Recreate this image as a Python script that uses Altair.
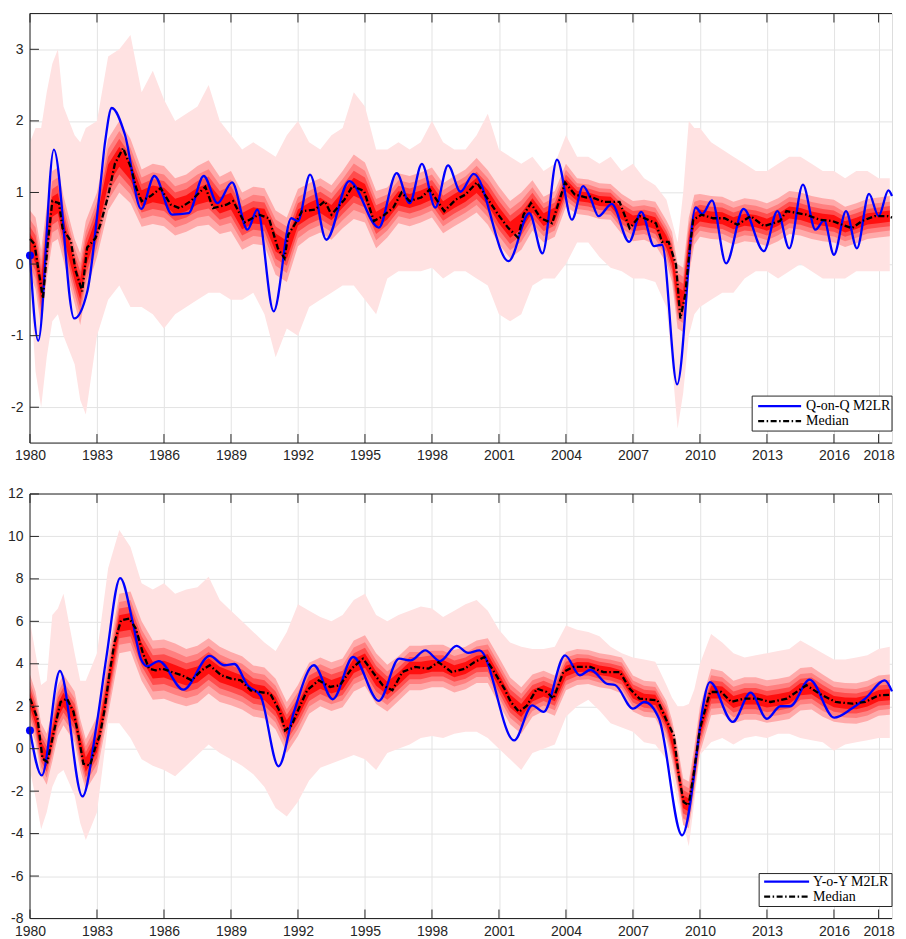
import altair as alt
import pandas as pd

# ---------------- data ----------------
band_years = [
    1980.0, 1980.25, 1980.5, 1980.75, 1981.0, 1981.25, 1981.5, 1982.0, 1982.25, 1982.5,
    1983.0, 1983.5, 1984.0, 1984.5, 1985.0, 1985.5, 1986.0, 1986.5, 1987.0, 1987.5,
    1988.0, 1988.5, 1989.0, 1989.5, 1990.0, 1990.5, 1991.0, 1991.5, 1992.0, 1992.5,
    1993.0, 1993.5, 1994.0, 1994.5, 1995.0, 1995.5, 1996.0, 1996.5, 1997.0, 1997.5,
    1998.0, 1998.5, 1999.0, 1999.5, 2000.0, 2000.5, 2001.0, 2001.5, 2002.0, 2002.5,
    2003.0, 2003.5, 2004.0, 2004.5, 2005.0, 2005.5, 2006.0, 2006.5, 2007.0, 2007.5,
    2008.0, 2008.5, 2008.75, 2009.0, 2009.25, 2009.5, 2009.75, 2010.0, 2010.5, 2011.0,
    2011.5, 2012.0, 2012.5, 2013.0, 2013.5, 2014.0, 2014.5, 2015.0, 2015.5, 2016.0,
    2016.5, 2017.0, 2017.5, 2018.0, 2018.5,
]

# --- Q-on-Q panel ---
q_label = "Q-on-Q M2LR"
q_outer_lo = [
    -0.3, -1.5, -2.0, -1.3, -0.8, -0.7, -1.0, -1.4, -1.9, -2.1,
    -1.0, -0.5, -0.3, -0.6, -0.6, -0.7, -0.9, -0.7, -0.6, -0.5,
    -0.4, -0.4, -0.5, -0.5, -0.4, -0.7, -1.3, -0.9, -1.0, -0.6,
    -0.5, -0.4, -0.3, -0.3, -0.5, -0.7, -0.2, -0.1, -0.1, -0.1,
    -0.05, -0.2, -0.1, -0.1, -0.2, -0.3, -0.7, -0.8, -0.7, -0.3,
    -0.2, -0.2, 0.0, 0.3, 0.3, 0.1, -0.05, -0.1, -0.2, -0.2,
    -0.25, -0.6, -1.4, -2.3, -1.8, -1.0, -0.7, -0.6, -0.5, -0.4,
    -0.4, -0.2, -0.1, -0.1, -0.2, -0.1, 0.0, -0.1, -0.2, -0.2,
    -0.2, -0.1, -0.1, -0.1, -0.1,
]
q_outer_hi = [
    1.7, 1.9, 1.9, 2.4, 2.8, 3.0, 2.2, 1.8, 1.7, 1.9,
    2.0, 2.9, 3.0, 3.2, 2.4, 2.7, 2.3, 2.0, 2.1, 2.2,
    2.5, 2.0, 1.8, 1.6, 1.7, 1.6, 1.5, 1.8, 2.0, 1.7,
    1.6, 1.8, 1.9, 2.4, 2.2, 1.6, 1.6, 1.7, 1.6, 1.7,
    2.0, 1.7, 1.6, 1.6, 1.8, 2.1, 1.6, 1.5, 1.4, 1.5,
    1.3, 1.4, 1.8, 1.5, 1.5, 1.4, 1.5, 1.3, 1.4, 1.2,
    1.1, 0.9, 0.6, 0.3, 1.0, 2.0, 1.9, 1.9, 1.7, 1.6,
    1.5, 1.4, 1.3, 1.3, 1.4, 1.5, 1.5, 1.4, 1.3, 1.3,
    1.2, 1.3, 1.3, 1.2, 1.2,
]
q_center = [
    0.3, 0.15, -0.35, 0.3, 0.8, 0.85, 0.5, -0.1, -0.35, 0.1,
    0.55, 1.25, 1.5, 1.3, 0.92, 0.98, 0.95, 0.8, 0.85, 0.95,
    1.0, 0.82, 0.88, 0.6, 0.68, 0.66, 0.3, 0.2, 0.65, 0.75,
    0.82, 0.72, 0.9, 1.08, 1.0, 0.62, 0.72, 0.92, 0.88, 0.93,
    1.0, 0.78, 0.88, 0.97, 1.1, 0.93, 0.68, 0.48, 0.6, 0.82,
    0.62, 0.7, 1.1, 0.95, 0.93, 0.88, 0.87, 0.7, 0.6, 0.62,
    0.57, 0.31, 0.1, -0.45, -0.5, 0.25, 0.62, 0.68, 0.65, 0.64,
    0.57, 0.62, 0.6, 0.55, 0.62, 0.72, 0.7, 0.65, 0.62, 0.6,
    0.52, 0.57, 0.63, 0.65, 0.67,
]
q_half = [
    0.45, 0.5, 0.55, 0.5, 0.5, 0.5, 0.45, 0.45, 0.5, 0.5,
    0.45, 0.5, 0.5, 0.45, 0.4, 0.42, 0.42, 0.4, 0.4, 0.42,
    0.45, 0.4, 0.42, 0.4, 0.4, 0.4, 0.45, 0.45, 0.4, 0.38,
    0.38, 0.38, 0.4, 0.45, 0.42, 0.4, 0.35, 0.35, 0.35, 0.35,
    0.35, 0.35, 0.35, 0.35, 0.38, 0.38, 0.4, 0.4, 0.4, 0.35,
    0.32, 0.32, 0.3, 0.25, 0.25, 0.25, 0.25, 0.28, 0.28, 0.28,
    0.3, 0.3, 0.35, 0.45, 0.45, 0.4, 0.35, 0.3, 0.3, 0.3,
    0.3, 0.3, 0.3, 0.3, 0.3, 0.3, 0.3, 0.3, 0.3, 0.3,
    0.28, 0.28, 0.28, 0.28, 0.28,
]
q_blue_years = [
    1980.0, 1980.37, 1981.07, 1981.98, 1982.57, 1983.08, 1983.37, 1983.66, 1984.25, 1984.98,
    1985.57, 1986.37, 1987.1, 1987.78, 1988.4, 1989.05, 1989.74, 1990.18, 1990.91, 1991.7,
    1992.0, 1992.54, 1993.27, 1994.3, 1995.62, 1996.42, 1997.0, 1997.55, 1998.15, 1998.72,
    1999.28, 1999.87, 2001.43, 2002.36, 2002.95, 2003.6, 2004.27, 2004.77, 2005.1, 2005.46,
    2006.05, 2006.83, 2007.37, 2007.95, 2008.3, 2008.98, 2009.81, 2010.1, 2010.54, 2011.17,
    2011.95, 2012.86, 2013.47, 2014.0, 2014.61, 2015.17, 2015.56, 2016.0, 2016.54, 2017.03,
    2017.57, 2018.0, 2018.44, 2018.6,
]
q_blue_vals = [
    0.12, -1.07, 1.60, -0.76, -0.38, 0.88, 1.72, 2.18, 1.81, 0.77,
    1.23, 0.69, 0.71, 1.23, 0.85, 1.14, 0.48, 0.76, -0.66, 0.64,
    0.60, 1.25, 0.34, 1.16, 0.51, 1.27, 0.85, 1.40, 0.79, 1.38,
    1.01, 1.26, 0.04, 0.71, 0.15, 1.46, 0.62, 1.09, 0.92, 0.67,
    0.84, 0.31, 0.73, 0.25, 0.27, -1.68, 0.79, 0.70, 0.89, 0.01,
    0.77, 0.18, 0.74, 0.22, 1.11, 0.48, 0.61, 0.13, 0.74, 0.22,
    0.98, 0.67, 1.03, 0.95,
]
q_med_years = [
    1980.0, 1980.2, 1980.58, 1980.8, 1981.0, 1981.3, 1981.46, 1981.83, 1982.05, 1982.34,
    1982.56, 1982.93, 1983.15, 1983.5, 1983.8, 1984.17, 1984.53, 1984.76, 1985.0, 1985.4,
    1985.85, 1986.3, 1986.7, 1987.2, 1987.85, 1988.2, 1988.8, 1989.1, 1989.6, 1990.25,
    1990.7, 1991.1, 1991.4, 1991.56, 1991.85, 1992.18, 1992.76, 1993.2, 1993.5, 1994.08,
    1994.44, 1994.96, 1995.4, 1995.8, 1996.27, 1996.64, 1997.0, 1997.52, 1997.9, 1998.55,
    1999.06, 1999.5, 2000.01, 2000.45, 2000.97, 2001.4, 2001.85, 2002.1, 2002.43, 2002.87,
    2003.38, 2003.96, 2004.4, 2004.92, 2005.1, 2005.68, 2006.4, 2006.85, 2007.3, 2008.03,
    2008.3, 2008.6, 2008.93, 2009.12, 2009.34, 2009.56, 2009.7, 2010.07, 2010.59, 2011.1,
    2011.68, 2012.27, 2012.86, 2013.58, 2013.87, 2014.76, 2015.35, 2015.94, 2016.8, 2017.25,
    2017.82, 2018.4, 2018.6,
]
q_med_vals = [
    0.35, 0.28, -0.48, 0.30, 0.88, 0.85, 0.50, 0.32, -0.10, -0.38,
    0.23, 0.36, 0.55, 0.95, 1.40, 1.62, 1.34, 1.06, 0.88, 0.95,
    1.06, 0.83, 0.78, 0.88, 1.08, 0.78, 0.83, 0.88, 0.58, 0.69,
    0.64, 0.22, 0.08, 0.41, 0.55, 0.74, 0.76, 0.88, 0.69, 0.90,
    1.09, 1.02, 0.60, 0.67, 0.79, 1.00, 0.88, 0.93, 1.04, 0.74,
    0.90, 0.97, 1.14, 0.93, 0.69, 0.51, 0.37, 0.69, 0.85, 0.64,
    0.57, 1.14, 0.97, 0.93, 0.94, 0.87, 0.87, 0.50, 0.67, 0.57,
    0.31, 0.31, -0.01, -0.76, -0.43, 0.27, 0.62, 0.69, 0.64, 0.64,
    0.55, 0.67, 0.53, 0.60, 0.74, 0.69, 0.62, 0.60, 0.50, 0.60,
    0.67, 0.67, 0.65,
]
q_y_ticks = [-2, -1, 0, 1, 2, 3]

# --- Y-o-Y panel ---
y_label = "Y-o-Y M2LR"
y_outer_lo = [
    -1.0, -2.3, -3.8, -3.0, -1.8, -1.2, -1.0, -2.2, -3.5, -4.3,
    -3.0, 1.2, 1.2, 0.5, -0.5, -0.8, -1.0, -1.3, -0.8, -0.3,
    0.2, -0.2, -0.5, -0.8, -1.2, -1.8, -2.8, -3.2, -2.5, -1.5,
    -0.9, -0.7, -0.5, -0.3, -0.5, -1.0, -0.2, 0.0, 0.2, 0.5,
    0.6, 0.5, 0.7, 0.8, 0.8, 0.5, 0.0, -0.5, -1.0, -0.2,
    0.0, 0.2, 1.5, 2.0, 2.3, 1.8, 1.2, 1.0, 0.8, 0.3,
    0.2, -0.5, -1.3, -2.5, -3.5, -4.6, -2.5, -0.3, 0.3, 0.5,
    0.2, 0.5, 0.6, 0.5, 0.7, 0.7, 0.5, 0.4, 0.3, -0.1,
    0.2, 0.3, 0.4, 0.5, 0.5,
]
y_outer_hi = [
    6.0, 4.5, 3.0, 3.2, 6.3, 6.6, 7.3, 4.5, 3.2, 3.2,
    4.5, 8.5, 10.3, 9.5, 7.8, 7.5, 7.8, 7.3, 7.5, 7.6,
    8.1, 7.0, 6.5, 6.0, 5.5, 5.0, 4.6, 5.5, 6.8, 6.5,
    6.2, 6.0, 6.3, 7.0, 7.3, 6.3, 6.0, 6.3, 6.5, 6.7,
    6.6, 6.2, 6.5, 6.8, 7.0, 6.5, 5.6, 5.0, 4.8, 4.7,
    4.7, 4.8, 5.8, 5.6, 5.5, 5.3, 4.8, 4.5, 4.3, 4.2,
    4.1, 3.0, 2.4, 2.0, 2.0, 2.1, 2.8, 4.0, 5.4, 5.0,
    4.5, 4.3, 4.4, 4.5, 4.6, 4.7, 5.1, 4.8, 4.5, 4.2,
    4.2, 4.3, 4.4, 4.7, 4.8,
]
y_center = [
    2.3, 1.5, 0.0, -0.5, 0.6, 1.8, 2.3, 1.5, 0.2, -0.75,
    0.2, 3.0, 5.9, 6.0, 4.6, 3.7, 3.75, 3.55, 3.35, 3.5,
    3.9, 3.5, 3.3, 3.1, 2.72, 2.62, 2.1, 1.0, 1.8, 2.85,
    3.15, 2.92, 3.1, 3.9, 4.15, 3.3, 2.85, 3.3, 3.8, 3.8,
    3.9, 3.9, 3.65, 3.8, 4.1, 4.15, 3.2, 2.25, 1.8, 2.5,
    2.72, 2.5, 3.65, 3.85, 3.85, 3.7, 3.61, 3.45, 2.6, 2.35,
    2.3, 1.35, 0.4, -0.9, -2.5, -2.65, -1.0, 0.9, 2.67, 2.65,
    2.2, 2.36, 2.36, 2.22, 2.3, 2.4, 2.8, 2.85, 2.5, 2.22,
    2.15, 2.13, 2.25, 2.5, 2.55,
]
y_half = [
    1.2, 1.2, 1.2, 1.2, 1.2, 1.2, 1.2, 1.2, 1.2, 1.2,
    1.3, 1.4, 1.4, 1.4, 1.4, 1.4, 1.4, 1.4, 1.35, 1.35,
    1.3, 1.3, 1.25, 1.25, 1.2, 1.2, 1.2, 1.2, 1.2, 1.2,
    1.15, 1.15, 1.15, 1.2, 1.2, 1.2, 1.1, 1.05, 1.05, 1.05,
    1.0, 1.0, 1.0, 1.0, 1.0, 1.05, 1.1, 1.1, 1.1, 1.0,
    0.95, 0.95, 0.9, 0.85, 0.8, 0.8, 0.8, 0.85, 0.85, 0.85,
    0.85, 0.9, 0.95, 1.0, 1.1, 1.1, 1.1, 1.1, 1.1, 1.0,
    1.0, 1.0, 1.0, 1.0, 1.0, 1.0, 1.0, 1.0, 1.0, 0.95,
    0.95, 0.95, 0.95, 0.95, 0.95,
]
y_blue_years = [
    1980.0, 1980.53, 1981.34, 1982.35, 1982.98, 1983.42, 1984.04, 1984.6, 1984.96, 1985.26,
    1985.77, 1986.87, 1988.05, 1988.71, 1989.15, 1989.74, 1990.32, 1991.13, 1991.82, 1992.71,
    1993.56, 1994.47, 1995.62, 1996.53, 1997.05, 1997.7, 1998.36, 1999.1, 1999.62, 2000.13,
    2001.68, 2002.49, 2003.0, 2003.96, 2004.62, 2005.1, 2005.83, 2006.2, 2007.0, 2007.51,
    2008.17, 2009.2, 2010.45, 2011.47, 2012.27, 2013.0, 2013.6, 2014.04, 2014.91, 2016.01,
    2016.8, 2017.4, 2018.28, 2018.6,
]
y_blue_vals = [
    0.86, -1.26, 3.66, -2.25, 1.10, 4.30, 8.04, 5.97, 4.24, 3.88,
    4.13, 2.78, 4.37, 3.93, 3.99, 2.99, 2.50, -0.83, 1.73, 3.93,
    2.33, 4.32, 2.25, 4.24, 4.16, 4.63, 4.13, 4.84, 4.51, 4.63,
    0.39, 2.04, 1.73, 4.40, 3.46, 3.72, 3.06, 3.00, 1.89, 2.20,
    1.41, -4.08, 3.14, 1.26, 2.64, 1.41, 2.00, 2.00, 3.25, 1.46,
    1.89, 2.36, 3.22, 2.70,
]
y_med_years = [
    1980.0, 1980.34, 1980.56, 1980.78, 1981.07, 1981.37, 1981.66, 1981.95, 1982.17, 1982.39,
    1982.69, 1982.91, 1983.13, 1983.35, 1983.57, 1983.79, 1984.08, 1984.45, 1984.74, 1985.04,
    1985.33, 1985.62, 1985.92, 1986.36, 1986.8, 1987.24, 1987.68, 1988.05, 1988.56, 1989.0,
    1989.44, 1989.88, 1990.32, 1990.76, 1991.2, 1991.42, 1991.72, 1991.97, 1992.41, 1992.93,
    1993.44, 1993.88, 1994.4, 1994.91, 1995.35, 1995.79, 1996.23, 1996.67, 1997.26, 1997.85,
    1998.29, 1998.88, 1999.47, 1999.91, 2000.35, 2000.79, 2001.24, 2001.53, 2001.9, 2002.26,
    2002.7, 2003.14, 2003.44, 2003.88, 2004.32, 2004.91, 2005.1, 2005.68, 2006.42, 2006.85,
    2007.29, 2008.1, 2008.47, 2008.83, 2009.05, 2009.27, 2009.49, 2009.71, 2010.0, 2010.45,
    2010.96, 2011.4, 2011.98, 2012.57, 2013.16, 2013.89, 2014.77, 2015.35, 2016.08, 2016.82,
    2017.4, 2017.99, 2018.5,
]
y_med_vals = [
    2.36, 1.41, -0.47, -0.63, 0.79, 2.20, 2.36, 1.73, 0.63, -0.71,
    -0.79, 0.00, 0.63, 1.89, 3.61, 5.03, 6.05, 6.13, 5.66, 4.56,
    3.77, 3.69, 3.77, 3.61, 3.46, 3.22, 3.69, 3.93, 3.46, 3.30,
    3.22, 2.75, 2.67, 2.59, 1.73, 0.86, 1.10, 1.73, 2.75, 3.22,
    2.91, 2.99, 3.77, 4.24, 3.61, 2.99, 2.75, 3.61, 3.85, 3.77,
    4.08, 3.61, 3.77, 4.08, 4.32, 3.61, 2.83, 2.20, 1.73, 2.04,
    2.83, 2.67, 2.36, 3.61, 3.85, 3.85, 3.85, 3.61, 3.61, 2.83,
    2.36, 2.28, 1.41, 0.63, -1.26, -2.51, -2.67, -1.26, 0.94, 2.67,
    2.67, 2.20, 2.36, 2.36, 2.20, 2.36, 2.99, 2.59, 2.20, 2.12,
    2.20, 2.51, 2.54,
]
y_y_ticks = [-8, -6, -4, -2, 0, 2, 4, 6, 8, 10, 12]

x_ticks = [1980, 1983, 1986, 1989, 1992, 1995, 1998, 2001, 2004, 2007, 2010, 2013, 2016, 2018]
median_label = "Median"

for arr in (q_outer_lo, q_outer_hi, q_center, q_half, y_outer_lo, y_outer_hi, y_center, y_half):
    assert len(arr) == len(band_years)
assert len(q_blue_years) == len(q_blue_vals) and len(q_med_years) == len(q_med_vals)
assert len(y_blue_years) == len(y_blue_vals) and len(y_med_years) == len(y_med_vals)

# ---------------- styling ----------------
BAND_COLORS = ["#FFE2E2", "#FFAAAA", "#FF8080", "#FF4D4D", "#FF0F0F"]
INNER_FRACTIONS = [1.0, 0.72, 0.5, 0.28]
BLUE = "#0000FF"
AXIS_GRAY = "#262626"
GRID = "#E3E3E3"
W = 863
TICK = 9
DASHDOT = [6, 2.5, 1.5, 2.5]


def panel(label, outer_lo, outer_hi, center, half, bx, bv, mx, mv, ydom, yticks, H, xpad, leg):
    rows = []
    for i, t in enumerate(band_years):
        rows.append({"year": t, "level": 0, "lo": outer_lo[i], "hi": outer_hi[i]})
        for k, f in enumerate(INNER_FRACTIONS):
            rows.append({"year": t, "level": k + 1,
                         "lo": center[i] - f * half[i], "hi": center[i] + f * half[i]})
    bands = pd.DataFrame(rows)
    blue = pd.DataFrame({"year": bx, "val": bv})
    med = pd.DataFrame({"year": mx, "val": mv})
    start = blue.iloc[[0]]

    xaxis = alt.Axis(values=x_ticks, labelExpr="'' + datum.value", title=None,
                     labelFlush=False, labelOverlap=False,
                     ticks=False, domain=False, grid=True, gridColor=GRID, gridWidth=1,
                     labelPadding=xpad, labelFontSize=14, labelFont="Liberation Sans",
                     labelColor=AXIS_GRAY)
    yaxis = alt.Axis(values=yticks, labelExpr="'' + datum.value", title=None, labelOverlap=False,
                     ticks=False, domain=False, grid=True, gridColor=GRID, gridWidth=1,
                     labelPadding=7, labelFontSize=14, labelFont="Liberation Sans",
                     labelColor=AXIS_GRAY)
    xs = alt.Scale(domain=[1980, 2018.6], nice=False, zero=False)
    ys = alt.Scale(domain=ydom, nice=False, zero=False)
    X = alt.X("year:Q", scale=xs, axis=xaxis)

    layers = []
    for k in range(5):
        layers.append(
            alt.Chart(bands).transform_filter(alt.datum.level == k)
            .mark_area(color=BAND_COLORS[k], interpolate="linear")
            .encode(x=X, y=alt.Y("lo:Q", scale=ys, axis=yaxis), y2="hi:Q")
        )
    layers.append(
        alt.Chart(blue).mark_line(color=BLUE, strokeWidth=2.3, interpolate="monotone")
        .encode(x=X, y=alt.Y("val:Q", scale=ys, axis=yaxis))
    )
    layers.append(
        alt.Chart(med).mark_line(color="black", strokeWidth=2.3, strokeDash=DASHDOT)
        .encode(x=X, y=alt.Y("val:Q", scale=ys, axis=yaxis))
    )
    layers.append(
        alt.Chart(start).mark_circle(color=BLUE, opacity=1, size=64)
        .encode(x=X, y=alt.Y("val:Q", scale=ys, axis=yaxis))
    )
    # axes box: top, bottom and left edges (right edge lies beyond the page in the original)
    ldf = pd.DataFrame({"label": [label, median_label]})
    frame = ldf.iloc[[0]]
    for yy in (0, H):
        layers.append(alt.Chart(frame).mark_rule(color=AXIS_GRAY, strokeWidth=1)
                      .encode(x=alt.value(0), x2=alt.value(W), y=alt.value(yy)))
    layers.append(alt.Chart(frame).mark_rule(color=AXIS_GRAY, strokeWidth=1)
                  .encode(x=alt.value(0), y=alt.value(0), y2=alt.value(H)))
    # inward tick marks (MATLAB box style)
    xt = pd.DataFrame({"year": x_ticks})
    yt = pd.DataFrame({"val": yticks})
    for y0, y1 in ((H - TICK, H), (0, TICK)):
        layers.append(alt.Chart(xt).mark_rule(color=AXIS_GRAY, strokeWidth=1)
                      .encode(x=X, y=alt.value(y0), y2=alt.value(y1)))
    layers.append(alt.Chart(yt).mark_rule(color=AXIS_GRAY, strokeWidth=1)
                  .encode(y=alt.Y("val:Q", scale=ys, axis=yaxis),
                          x=alt.value(0), x2=alt.value(TICK)))
    # legend box
    layers.append(alt.Chart(frame).mark_rect(fill="white", stroke=AXIS_GRAY, strokeWidth=1)
                  .encode(x=alt.value(leg["box"][0]), x2=alt.value(leg["box"][1]),
                          y=alt.value(leg["box"][2]), y2=alt.value(leg["box"][3])))
    styles = [dict(color=BLUE), dict(color="black", strokeDash=DASHDOT)]
    for i in range(2):
        one = ldf.iloc[[i]]
        layers.append(alt.Chart(one).mark_rule(strokeWidth=2.3, **styles[i])
                      .encode(x=alt.value(leg["line"][0]), x2=alt.value(leg["line"][1]),
                              y=alt.value(leg["rows"][i])))
        layers.append(alt.Chart(one).mark_text(align="left", baseline="middle",
                                               font="Liberation Serif", fontSize=14, color="black")
                      .encode(x=alt.value(leg["text"]), y=alt.value(leg["rows"][i]), text="label:N"))
    return alt.layer(*layers).properties(width=W, height=H)


top = panel(q_label, q_outer_lo, q_outer_hi, q_center, q_half,
            q_blue_years, q_blue_vals, q_med_years, q_med_vals,
            [-2.5, 3.5], q_y_ticks, 430, 5,
            {"box": (723, 863, 383, 418), "line": (729, 772), "rows": (393, 408), "text": 777})
bottom = panel(y_label, y_outer_lo, y_outer_hi, y_center, y_half,
               y_blue_years, y_blue_vals, y_med_years, y_med_vals,
               [-8, 12], y_y_ticks, 425, 6,
               {"box": (730, 863, 380, 413), "line": (735, 780), "rows": (388, 403), "text": 784})

chart = (
    alt.vconcat(top, bottom, spacing=23)
    .properties(padding={"left": -2, "top": 4, "right": 0, "bottom": 0})
    .configure_view(strokeWidth=0)
    .configure(background="white")
)

chart.save("out.html", embed_options={"renderer": "svg", "actions": False})
